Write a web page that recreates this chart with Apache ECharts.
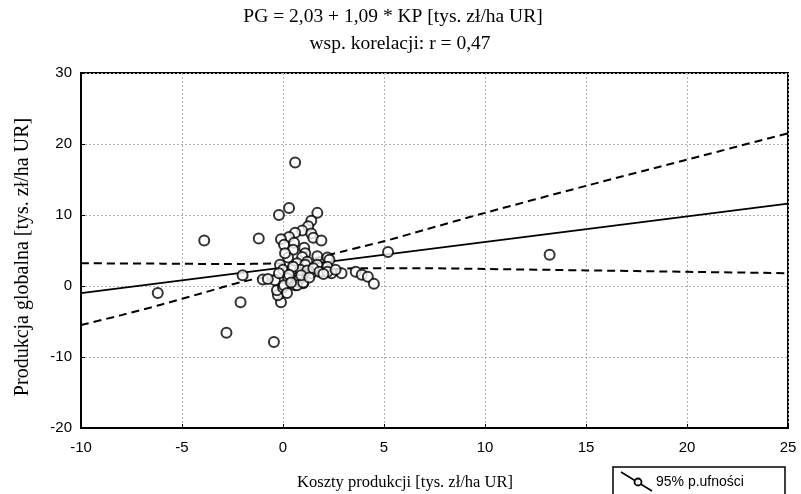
<!DOCTYPE html>
<html>
<head>
<meta charset="utf-8">
<script src="https://cdn.jsdelivr.net/npm/echarts@6/dist/echarts.min.js"></script>
<style>html,body{margin:0;padding:0;background:#fff;}#c{width:801px;height:494px;}</style>
</head>
<body>
<div id="c"></div>
<script>
var titleLines = ['PG = 2,03 + 1,09 * KP [tys. zł/ha UR]', 'wsp. korelacji: r = 0,47'];
var xName = 'Koszty produkcji [tys. zł/ha UR]';
var yName = 'Produkcja globalna [tys. zł/ha UR]';
var legendLabel = '95% p.ufności';

var points = [
  [-6.2,-1.0],[-3.9,6.4],[-1.2,6.7],[-2.0,1.5],[-1.0,0.9],[-2.1,-2.3],[-2.8,-6.6],[-0.45,-7.9],
  [-0.1,-2.3],[-0.25,-1.3],[-0.3,-0.6],[-0.4,0.8],[-0.75,1.0],[0.0,-0.2],[0.25,1.1],[0.6,0.1],
  [0.75,0.6],[1.0,0.4],[0.8,0.9],[1.4,1.8],[1.9,2.0],[2.4,1.8],[2.9,1.8],[3.6,2.0],[3.9,1.6],
  [4.2,1.3],[4.5,0.3],[5.2,4.8],[13.2,4.4],[0.6,17.4],[-0.2,10.0],[0.3,11.0],[1.7,10.3],
  [1.4,9.2],[1.25,8.4],[0.95,7.8],[0.6,7.5],[1.4,7.4],[1.5,6.8],[1.9,6.4],[0.3,6.9],[-0.1,6.6],
  [0.05,5.8],[0.55,6.1],[0.5,5.1],[1.05,5.4],[1.1,4.6],[0.25,4.0],[0.95,4.1],[1.7,4.2],[2.2,4.0],
  [2.3,3.7],[-0.15,3.0],[0.7,3.2],[1.2,3.4],[1.1,3.0],[1.7,3.0],[0.0,2.3],[0.45,2.3],[0.85,2.3],
  [1.2,2.2],[1.5,2.5],[1.8,2.0],[2.2,2.7],[2.2,2.0],[2.6,2.3],[0.7,0.1],[1.0,0.5],[0.05,0.1],
  [0.5,2.7],[0.3,1.6],[0.9,1.5],[-0.2,1.8],[0.2,-1.0],[0.4,0.5],[1.3,1.2],[2.0,1.7],[0.1,4.6]
];
var fitLine = [[-10,-1.0],[25,11.6]];
var upperBand = [[-10,3.2],[-6,3.15],[-3,3.1],[0,3.2],[1,3.5],[2,4.2],[3,4.9],[4,5.6],[5,6.3],[7,7.9],[10,10.3],[15,14.1],[20,17.8],[25,21.5]];
var lowerBand = [[-10,-5.5],[-8,-4.1],[-6,-2.6],[-4,-1.0],[-2,0.6],[0,1.7],[2,2.3],[4,2.5],[7,2.5],[10,2.4],[15,2.2],[20,2.0],[25,1.8]];

var serif = 'Liberation Serif';
var sans = 'Liberation Sans';
var chart = echarts.init(document.getElementById('c'), null, {renderer: 'canvas'});
var gridLine = {show: true, lineStyle: {color: '#b0b0b0', type: [2, 2], width: 1}};
var bandStyle = {color: '#000', width: 2, type: [8, 5]};
chart.setOption({
  animation: false,
  backgroundColor: '#fff',
  grid: {left: 81, right: 13, top: 73, bottom: 66, outerBoundsMode: 'none', containLabel: false,
         show: true, borderColor: '#000', borderWidth: 2, backgroundColor: 'transparent'},
  graphic: [
    {type: 'text', x: 393, y: 17, style: {text: titleLines[0], font: '19.5px "' + serif + '"', fill: '#000', align: 'center', verticalAlign: 'middle'}},
    {type: 'text', x: 400, y: 44, style: {text: titleLines[1], font: '19.5px "' + serif + '"', fill: '#000', align: 'center', verticalAlign: 'middle'}},
    {type: 'rect', shape: {x: 613, y: 467, width: 172, height: 40}, style: {fill: '#fff', stroke: '#000', lineWidth: 1.5}},
    {type: 'line', shape: {x1: 621, y1: 472, x2: 652, y2: 491}, style: {stroke: '#000', lineWidth: 1.5}},
    {type: 'circle', shape: {cx: 638, cy: 482, r: 3.5}, style: {fill: '#fff', stroke: '#000', lineWidth: 1.8}},
    {type: 'text', x: 656, y: 482, style: {text: legendLabel, font: '14px "' + sans + '"', fill: '#000', align: 'left', verticalAlign: 'middle'}}
  ],
  xAxis: {
    type: 'value', min: -10, max: 25, interval: 5,
    name: xName, nameLocation: 'middle', nameGap: 46,
    nameTextStyle: {fontFamily: serif, fontSize: 16.5, color: '#000', padding: [0, 59, 0, 0]},
    axisLine: {show: true, onZero: false, lineStyle: {color: '#000', width: 2}},
    axisTick: {show: true, inside: true, length: 4, lineStyle: {color: '#000'}},
    axisLabel: {fontFamily: sans, fontSize: 15, color: '#000', margin: 12},
    splitLine: gridLine
  },
  yAxis: {
    type: 'value', min: -20, max: 30, interval: 10,
    name: yName, nameLocation: 'middle', nameGap: 48, nameRotate: 90,
    nameTextStyle: {fontFamily: serif, fontSize: 20, color: '#000', padding: [0, 13, 0, 0]},
    axisLine: {show: true, onZero: false, lineStyle: {color: '#000', width: 2}},
    axisTick: {show: true, inside: true, length: 4, lineStyle: {color: '#000'}},
    axisLabel: {fontFamily: sans, fontSize: 15, color: '#000', margin: 9},
    splitLine: gridLine
  },
  series: [
    {type: 'line', data: upperBand, showSymbol: false, smooth: 0.3, lineStyle: bandStyle, z: 2},
    {type: 'line', data: lowerBand, showSymbol: false, smooth: 0.3, lineStyle: bandStyle, z: 2},
    {type: 'line', data: fitLine, showSymbol: false, lineStyle: {color: '#000', width: 1.8}, z: 2},
    {type: 'scatter', data: points, symbol: 'circle', symbolSize: 10,
     itemStyle: {color: '#fff', borderColor: '#000', borderWidth: 2}, z: 3}
  ]
});
</script>
</body>
</html>
